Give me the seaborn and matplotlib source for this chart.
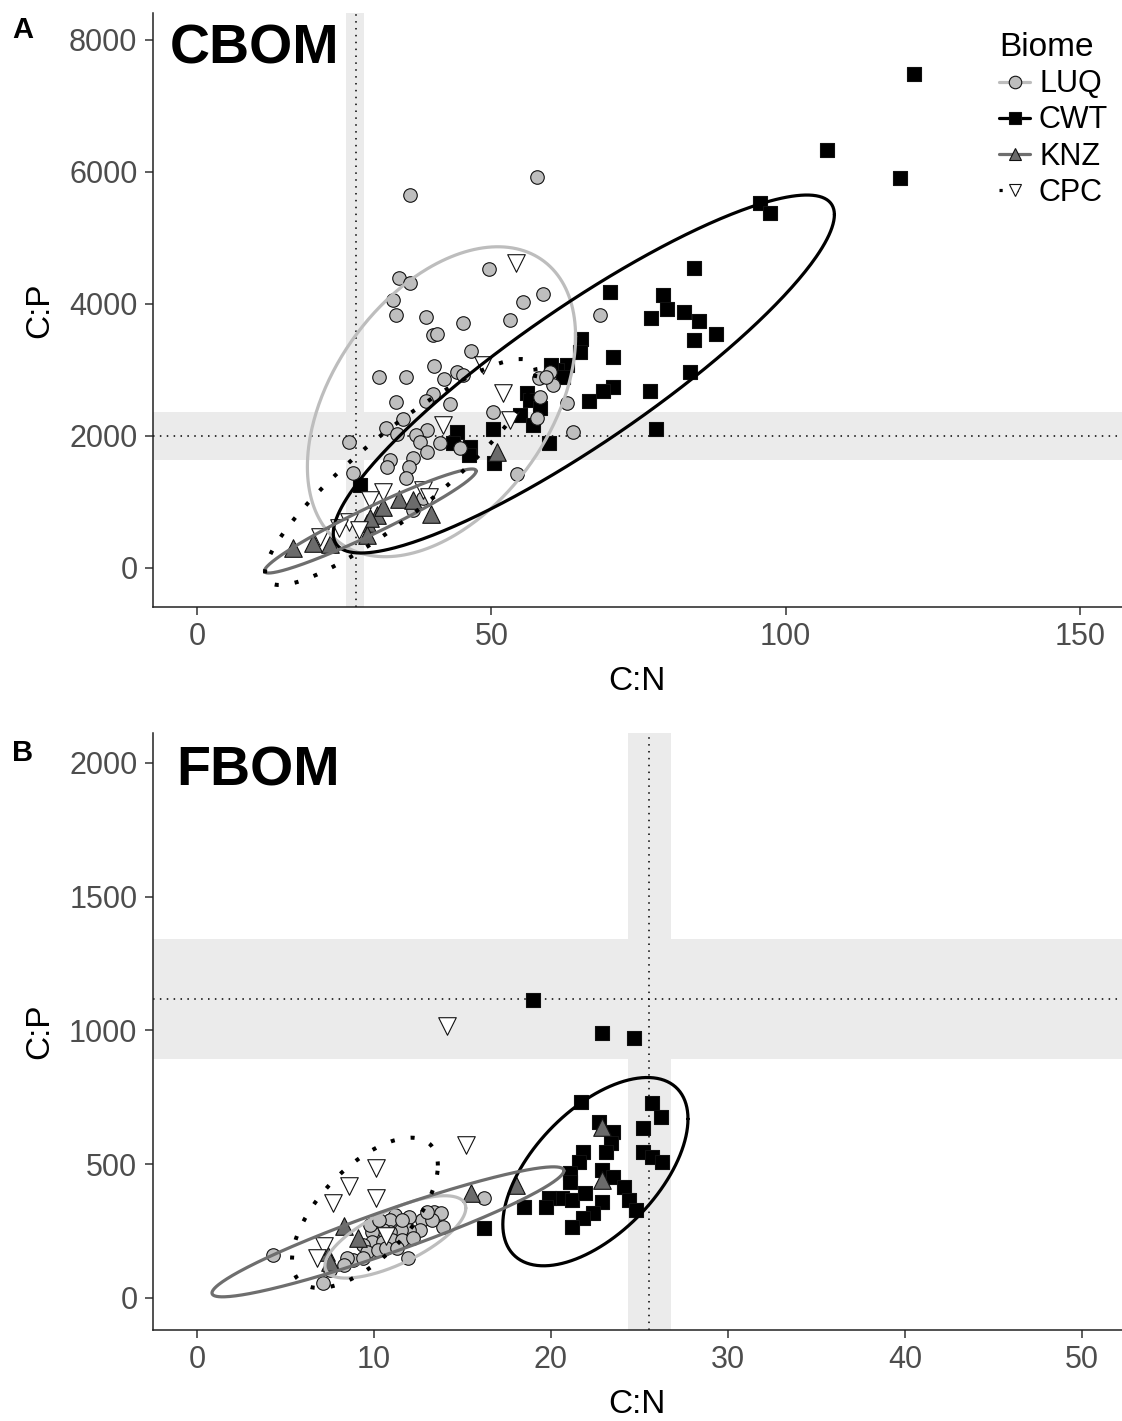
import numpy as np
import pandas as pd
import matplotlib
matplotlib.use("Agg")
import matplotlib.pyplot as plt
from matplotlib.lines import Line2D
import seaborn as sns

sns.set_theme(style="ticks")
plt.rcParams["font.family"] = ["Liberation Sans", "DejaVu Sans"]
plt.rcParams["text.color"] = "black"
plt.rcParams["axes.labelcolor"] = "black"

biomes = ["LUQ", "CWT", "KNZ", "CPC"]
fill_colors = {"LUQ": "#BEBEBE", "CWT": "#000000", "KNZ": "#6B6B6B", "CPC": "#FFFFFF"}
line_colors = {"LUQ": "#BDBDBD", "CWT": "#000000", "KNZ": "#6E6E6E", "CPC": "#000000"}
line_styles = {"LUQ": "-", "CWT": "-", "KNZ": "-", "CPC": (0, (1, 4))}
markers = {"LUQ": "o", "CWT": "s", "KNZ": "^", "CPC": "v"}
marker_sizes = {"LUQ": 95, "CWT": 100, "KNZ": 160, "CPC": 160}

# ---------------- CBOM ----------------
cbom_luq_cn = [49.5, 34.2, 36.2, 33.3, 33.7, 38.8, 40.0, 40.8, 45.2, 53.2,
               55.3, 58.8, 68.5, 46.6, 40.3, 30.8, 35.4, 42.0, 44.2, 45.1,
               40.0, 33.7, 38.8, 43.0, 50.3, 34.9, 32.1, 34.0, 39.1, 37.1,
               37.9, 39.1, 36.7, 32.8, 32.3, 35.9, 35.4, 25.7, 26.5, 54.4,
               63.8, 62.9, 57.8, 58.3, 58.0, 60.0, 60.4, 59.2, 41.3, 44.7,
               36.7, 38.4, 36.2, 57.7]
cbom_luq_cp = [4530, 4394, 4318, 4060, 3833, 3803, 3530, 3545, 3712, 3757,
               4030, 4151, 3833, 3288, 3060, 2894, 2894, 2863, 2969, 2924,
               2636, 2515, 2530, 2485, 2363, 2257, 2121, 2030, 2091, 2015,
               1909, 1757, 1667, 1636, 1530, 1530, 1364, 1909, 1439, 1424,
               2060, 2500, 2273, 2591, 2879, 2969, 2772, 2894, 1894, 1818,
               879, 1061, 5651, 5924]
cbom_cwt_cn = [121.9, 107.0, 119.4, 95.6, 97.4, 84.5, 70.1, 79.1, 79.8, 77.2,
               82.8, 85.2, 88.1, 84.4, 65.3, 65.0, 70.7, 62.9, 61.2, 60.2,
               62.2, 77.0, 70.6, 68.9, 66.5, 83.7, 56.1, 56.6, 58.3, 54.9,
               57.0, 50.2, 77.9, 59.7, 50.5, 44.2, 43.4, 46.4, 46.1, 27.7]
cbom_cwt_cp = [7485, 6333, 5909, 5530, 5379, 4545, 4182, 4136, 3924, 3788,
               3879, 3742, 3545, 3455, 3469, 3273, 3197, 3076, 3000, 3076,
               2894, 2682, 2742, 2682, 2530, 2969, 2651, 2545, 2424, 2318,
               2166, 2106, 2106, 1894, 1591, 2060, 1894, 1833, 1712, 1257]
cbom_knz_cn = [16.2, 19.6, 22.6, 28.9, 30.6, 31.6, 34.2, 36.7, 39.8, 51.0, 28.9, 29.4]
cbom_knz_cp = [303, 379, 364, 682, 803, 924, 1045, 1030, 818, 1757, 500, 758]
cbom_cpc_cn = [54.1, 48.5, 52.0, 53.1, 41.8, 38.4, 31.6, 39.3, 25.7, 27.4, 24.0, 20.9, 29.4]
cbom_cpc_cp = [4621, 3076, 2651, 2242, 2166, 1182, 1151, 1076, 697, 576, 606, 470, 1030]

# ellipse centre, half-extent and correlation for LUQ, CWT, KNZ, CPC
cbom_ell_cx = [41.5, 65.7, 29.4, 34.5]
cbom_ell_cy = [2519, 2939, 712, 1454]
cbom_ell_sx = [22.8, 42.6, 18.0, 23.0]
cbom_ell_sy = [2348, 2712, 788, 1712]
cbom_ell_r = [0.42, 0.89, 0.96, 0.89]

# reference ratios with their ranges
cbom_ref_cn, cbom_ref_cn_band = 27.0, (25.2, 28.3)
cbom_ref_cp, cbom_ref_cp_band = 2000, (1636, 2368)

# ---------------- FBOM ----------------
fbom_luq_cn = [4.3, 7.1, 16.2, 13.4, 13.8, 12.7, 12.0, 11.2, 10.9, 13.9,
               13.3, 12.6, 12.0, 11.5, 10.9, 10.5, 9.9, 9.9, 10.5, 11.0,
               11.6, 12.2, 9.4, 9.6, 10.2, 10.7, 11.3, 8.8, 9.4, 8.5,
               11.9, 9.8, 10.3, 11.6, 13.0, 7.5, 8.3]
fbom_luq_cp = [161, 56, 375, 322, 318, 292, 303, 311, 292, 266,
               292, 255, 255, 255, 247, 255, 247, 210, 210, 217,
               217, 225, 198, 172, 180, 187, 187, 142, 150, 150,
               150, 273, 292, 292, 322, 105, 124]
fbom_cwt_cn = [19.0, 22.9, 24.7, 21.7, 22.7, 23.5, 23.4, 23.1, 21.8, 21.6,
               21.1, 21.1, 20.6, 19.9, 19.7, 18.5, 21.2, 21.9, 22.9, 22.4,
               21.8, 21.2, 22.9, 23.5, 24.1, 24.4, 24.8, 25.7, 26.2, 25.2,
               25.2, 25.7, 26.3, 16.2]
fbom_cwt_cp = [1112, 992, 970, 734, 659, 622, 580, 547, 547, 509,
               468, 434, 375, 375, 341, 341, 367, 393, 360, 318,
               300, 266, 479, 453, 416, 367, 330, 730, 678, 637,
               547, 528, 509, 260]
fbom_knz_cn = [22.9, 22.9, 18.0, 15.5, 8.3, 9.1, 7.3, 7.5]
fbom_knz_cp = [640, 442, 423, 393, 270, 225, 172, 135]
fbom_cpc_cn = [14.1, 15.2, 10.1, 8.6, 7.7, 10.1, 7.2, 6.8, 10.7]
fbom_cpc_cp = [1015, 573, 487, 419, 356, 375, 195, 150, 233]

fbom_ell_cx = [11.21, 22.51, 10.79, 9.49]
fbom_ell_cy = [228, 472, 247, 318]
fbom_ell_sx = [3.98, 5.23, 9.94, 4.12]
fbom_ell_sy = [154, 352, 243, 281]
fbom_ell_r = [0.70, 0.56, 0.94, 0.63]

fbom_ref_cn, fbom_ref_cn_band = 25.55, (24.33, 26.78)
fbom_ref_cp, fbom_ref_cp_band = 1119, (895, 1343)


def make_frame(cn_lists, cp_lists):
    parts = []
    for b, cn, cp in zip(biomes, cn_lists, cp_lists):
        parts.append(pd.DataFrame({"CN": cn, "CP": cp, "Biome": b}))
    return pd.concat(parts, ignore_index=True)


def ellipse_path(cx, cy, sx, sy, r, n=361):
    t = np.linspace(0, 2 * np.pi, n)
    x = cx + sx * np.cos(t)
    y = cy + sy * (r * np.cos(t) + np.sqrt(1 - r * r) * np.sin(t))
    return x, y


def draw_panel(ax, df, ell, ref_cn, ref_cn_band, ref_cp, ref_cp_band):
    band = "#EBEBEB"
    ax.axvspan(*ref_cn_band, color=band, lw=0, zorder=0)
    ax.axhspan(*ref_cp_band, color=band, lw=0, zorder=0)
    ax.axvline(ref_cn, color="black", lw=1.1, ls=(0, (1, 3.5)), zorder=1)
    ax.axhline(ref_cp, color="black", lw=1.1, ls=(0, (1, 3.5)), zorder=1)
    for b in ["CWT", "LUQ", "KNZ", "CPC"]:
        sub = df[df["Biome"] == b]
        sns.scatterplot(data=sub, x="CN", y="CP", ax=ax, marker=markers[b],
                        color=fill_colors[b], edgecolor="#111111",
                        linewidth=0.8, s=marker_sizes[b], legend=False, zorder=2)
    for i, b in enumerate(biomes):
        ex, ey = ellipse_path(ell[0][i], ell[1][i], ell[2][i], ell[3][i], ell[4][i])
        ax.plot(ex, ey, color=line_colors[b],
                lw=2.3 if b != "CPC" else 2.9, ls=line_styles[b],
                dash_capstyle="butt", zorder=3)
    sns.despine(ax=ax)
    for s in ["left", "bottom"]:
        ax.spines[s].set_color("#222222")
        ax.spines[s].set_linewidth(1.1)
    ax.tick_params(axis="both", labelsize=22, labelcolor="#4D4D4D",
                   color="#333333", length=6, width=1.1, pad=5)
    ax.set_xlabel("C:N", fontsize=24, labelpad=10, color="black")
    ax.set_ylabel("C:P", fontsize=24, labelpad=10, color="black")
    ax.grid(False)


W, H = 1122, 1421
fig = plt.figure(figsize=(W / 100, H / 100), dpi=100)
fig.patch.set_facecolor("white")

ax_a = fig.add_axes([152.7 / W, 1 - 607 / H, (W - 152.7) / W, (607 - 13) / H])
ax_b = fig.add_axes([152.7 / W, 1 - 1330 / H, (W - 152.7) / W, (1330 - 733) / H])
for ax in (ax_a, ax_b):
    ax.set_facecolor("white")

cbom = make_frame([cbom_luq_cn, cbom_cwt_cn, cbom_knz_cn, cbom_cpc_cn],
                  [cbom_luq_cp, cbom_cwt_cp, cbom_knz_cp, cbom_cpc_cp])
fbom = make_frame([fbom_luq_cn, fbom_cwt_cn, fbom_knz_cn, fbom_cpc_cn],
                  [fbom_luq_cp, fbom_cwt_cp, fbom_knz_cp, fbom_cpc_cp])

draw_panel(ax_a, cbom,
           (cbom_ell_cx, cbom_ell_cy, cbom_ell_sx, cbom_ell_sy, cbom_ell_r),
           cbom_ref_cn, cbom_ref_cn_band, cbom_ref_cp, cbom_ref_cp_band)
draw_panel(ax_b, fbom,
           (fbom_ell_cx, fbom_ell_cy, fbom_ell_sx, fbom_ell_sy, fbom_ell_r),
           fbom_ref_cn, fbom_ref_cn_band, fbom_ref_cp, fbom_ref_cp_band)

ax_a.set_xlim(-7.6, 157.2)
ax_a.set_ylim(-591, 8409)
ax_a.set_xticks([0, 50, 100, 150])
ax_a.set_yticks([0, 2000, 4000, 6000, 8000])

ax_b.set_xlim(-2.5, 52.26)
ax_b.set_ylim(-120, 2112)
ax_b.set_xticks([0, 10, 20, 30, 40, 50])
ax_b.set_yticks([0, 500, 1000, 1500, 2000])

# panel titles and tags
fig.text(170 / W, 1 - 63 / H, "CBOM", fontsize=40, fontweight="bold",
         va="baseline", color="black")
fig.text(176 / W, 1 - 785 / H, "FBOM", fontsize=40, fontweight="bold",
         va="baseline", color="black")
fig.text(12 / W, 1 - 38 / H, "A", fontsize=21, fontweight="bold",
         va="baseline", color="black")
fig.text(12 / W, 1 - 761 / H, "B", fontsize=21, fontweight="bold",
         va="baseline", color="black")

handles = [Line2D([0], [0], color=line_colors[b], lw=2.3, ls=line_styles[b],
                  dash_capstyle="butt", marker=markers[b],
                  markerfacecolor=fill_colors[b], markeredgecolor="#111111",
                  markeredgewidth=0.8, markersize=9)
           for b in biomes]
leg = fig.legend(handles, biomes, title="Biome", loc="upper left",
                 bbox_to_anchor=(984 / W, 1 - 17 / H), frameon=False,
                 fontsize=22, title_fontsize=24, handlelength=1.0,
                 handletextpad=0.3, labelspacing=0.2, borderpad=0,
                 alignment="left")
for t in leg.get_texts():
    t.set_color("black")
leg.get_title().set_color("black")

fig.savefig("out.png", dpi=100, facecolor="white")
